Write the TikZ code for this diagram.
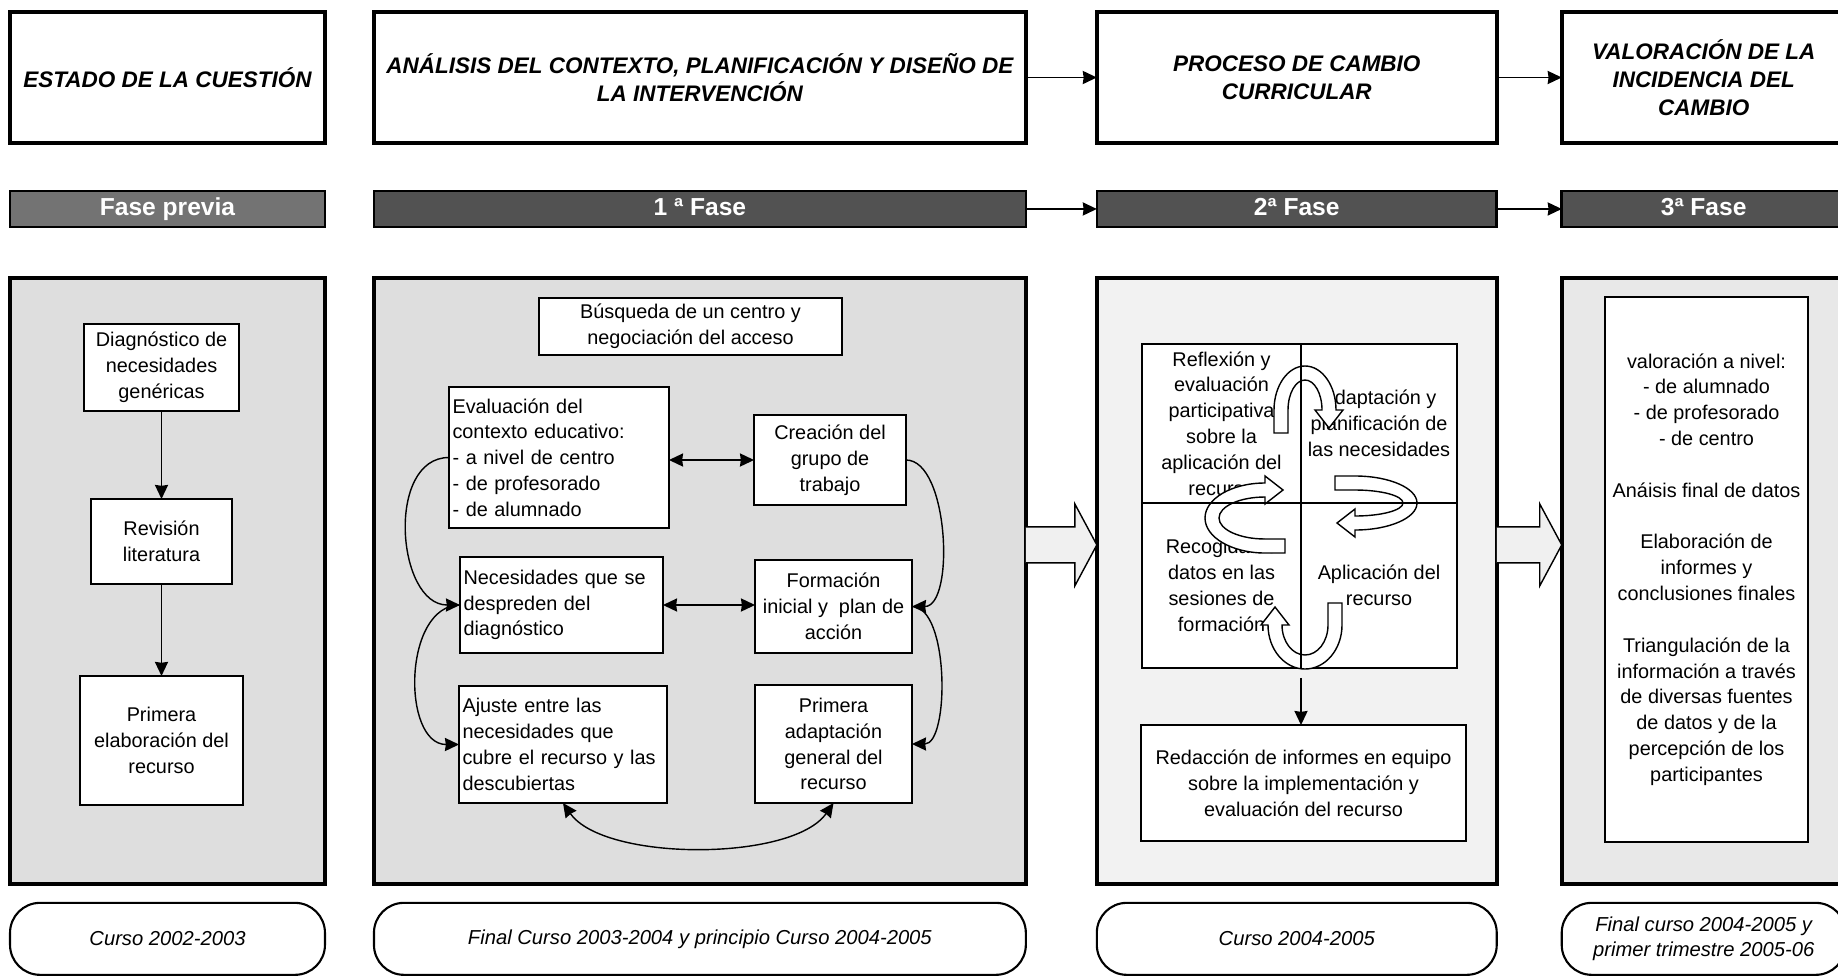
\documentclass[tikz,border=0pt]{standalone}
\usepackage{fontspec}
\setmainfont{Liberation Sans}
\usetikzlibrary{arrows.meta, positioning, shapes, calc}
\newcommand{\bodysize}{\fontsize{11.3}{14.7}\selectfont}
\newcommand{\headsize}{\fontsize{12.8}{15.9}\selectfont}
\newcommand{\stagewidth}{6.3cm}
\tikzstyle{header} = [% the title of each stage
  rectangle,
  minimum height=2.62cm,
  align=center,
  draw=black,
  line width=2pt,
  fill=white,
  font=\headsize\bfseries\itshape
  ]
\tikzstyle{phase} = [% dark bar with the name of the phase
  rectangle,
  minimum height=0.72cm,
  text height=1.45ex,
  text depth=0.05ex,
  draw=black,
  line width=1.5pt,
  fill=black!68,
  text=white,
  font=\fontsize{14}{16}\selectfont\bfseries
  ]
\tikzstyle{panel} = [% grey frame holding the tasks of a phase
  rectangle,
  minimum height=12.12cm,
  draw=black,
  line width=2pt,
  fill=black!13
  ]
\tikzstyle{period} = [% school year of the phase
  rectangle,
  rounded corners=0.6cm,
  minimum height=1.44cm,
  align=center,
  draw=black,
  line width=1.2pt,
  fill=white,
  font=\fontsize{11.5}{14.5}\selectfont\itshape
  ]
\tikzstyle{process} = [% one task
  rectangle,
  inner sep=2pt,
  align=center,
  draw=black,
  line width=1pt,
  fill=white,
  font=\bodysize
  ]
\tikzstyle{listbox} = [% task with text flush left
  process,
  align=left
  ]
\tikzstyle{quadrant} = [% one quarter of the cycle
  rectangle,
  inner sep=0pt,
  align=center,
  draw=black,
  line width=0.8pt,
  fill=white,
  font=\bodysize
  ]
\tikzstyle{hollow} = [% white block arrows
  draw=black,
  line width=0.8pt,
  fill=white
  ]
\tikzstyle{arrow} = [% arrow format
  line width=0.8pt,
  ->,
  >={Stealth[length=8pt, width=7.5pt, inset=0.5pt]}
  ]
\tikzstyle{dblarrow} = [% arrow with two heads
  arrow,
  <->
  ]

\begin{document}
\begin{tikzpicture}[x=0.02cm, y=0.02cm, every node/.append style={outer sep=0pt}]

\useasboundingbox (0,0) rectangle (1838,-977);
\fill[white] (0,0) rectangle (1838,-977);

%%% Stages
\node[header, minimum width=\stagewidth] (estado) at (167.5,-77.5) {ESTADO DE LA CUESTIÓN};
\node[header, minimum width=13.04cm] (analisis) [right=0.98cm of estado] {ANÁLISIS DEL CONTEXTO, PLANIFICACIÓN Y DISEÑO DE\\LA INTERVENCIÓN};
\node[header, minimum width=8cm] (proceso) [right=1.42cm of analisis] {PROCESO DE CAMBIO\\CURRICULAR};
\node[header, minimum width=5.68cm] (valoracion) [right=1.3cm of proceso] {VALORACIÓN DE LA\\INCIDENCIA DEL\\CAMBIO};

%%% Phases
\node[phase, minimum width=\stagewidth, fill=black!55] (fase0) [below=0.96cm of estado] {Fase previa};
\node[phase, minimum width=13.04cm] (fase1) [below=0.96cm of analisis] {1 ª Fase};
\node[phase, minimum width=8cm] (fase2) [below=0.96cm of proceso] {2ª Fase};
\node[phase, minimum width=5.68cm] (fase3) [below=0.96cm of valoracion] {3ª Fase};

%%% Panels
\node[panel, minimum width=\stagewidth] (panelA) [below=1.02cm of fase0] {};
\node[panel, minimum width=13.04cm] (panelB) [below=1.02cm of fase1] {};
\node[panel, minimum width=8cm, fill=black!5] (panelC) [below=1.02cm of fase2] {};
\node[panel, minimum width=5.68cm, fill=black!9] (panelD) [below=1.02cm of fase3] {};

%%% Periods
\node[period, minimum width=\stagewidth] (cursoA) [below=0.38cm of panelA] {Curso 2002-2003};
\node[period, minimum width=13.04cm] (cursoB) [below=0.38cm of panelB] {Final Curso 2003-2004 y principio Curso 2004-2005};
\node[period, minimum width=8cm] (cursoC) [below=0.38cm of panelC] {Curso 2004-2005};
\node[period, minimum width=5.68cm] (cursoD) [below=0.38cm of panelD] {Final curso 2004-2005 y\\primer trimestre 2005-06};

%%% Fase previa
\node[process, minimum width=3.1cm, minimum height=1.74cm] (diag) at (161.5,-367.5) {Diagnóstico de\\necesidades\\genéricas};
\node[process, minimum width=2.82cm, minimum height=1.7cm] (revision) [below=1.76cm of diag] {Revisión\\literatura};
\node[process, minimum width=3.26cm, minimum height=2.58cm] (primera) [below=1.84cm of revision] {Primera\\elaboración del\\recurso};

%%% 1a Fase
\node[process, minimum width=6.06cm, minimum height=1.14cm] (busqueda) at (690.5,-326.5) {Búsqueda de un centro y\\negociación del acceso};
\node[listbox, text width=4.26cm, minimum height=2.82cm] (evaluacion) at (559,-457.5) {Evaluación del\\contexto educativo:\\- a nivel de centro\\- de profesorado\\- de alumnado};
\node[process, minimum width=3.04cm, minimum height=1.8cm] (creacion) at (830,-460) {Creación del\\grupo de\\trabajo};
\node[listbox, text width=3.92cm, minimum height=1.92cm] (necesidades) at (561.5,-605) {Necesidades que se\\despreden del\\diagnóstico};
\node[process, minimum width=3.14cm, minimum height=1.86cm] (formacion) at (833.5,-606.5) {Formación\\inicial y\ \ plan de\\acción};
\node[listbox, text width=4.02cm, minimum height=2.34cm] (ajuste) at (563,-744.5) {Ajuste entre las\\necesidades que\\cubre el recurso y las\\descubiertas};
\node[process, minimum width=3.14cm, minimum height=2.36cm] (primadapt) at (833.5,-744) {Primera\\adaptación\\general del\\recurso};

%%% 2a Fase
\coordinate (hub) at (1301,-503);
\node[quadrant, minimum width=3.18cm, minimum height=3.18cm, anchor=south east] (qTL) at (hub) {Reflexión y\\evaluación\\participativa\\sobre la\\aplicación del\\recurso};
\node[quadrant, minimum width=3.12cm, minimum height=3.18cm, anchor=south west] (qTR) at (hub) {Adaptación y\\planificación de\\las necesidades};
\node[quadrant, minimum width=3.18cm, minimum height=3.3cm, anchor=north east] (qBL) at (hub) {Recogida de\\datos en las\\sesiones de\\formación};
\node[quadrant, minimum width=3.12cm, minimum height=3.3cm, anchor=north west] (qBR) at (hub) {Aplicación del\\recurso};
\node[process, minimum width=6.5cm, minimum height=2.32cm] (redaccion) at (1303.5,-783) {Redacción de informes en equipo\\sobre la implementación y\\evaluación del recurso};

% cycle of curved arrows
\begin{scope}[shift={(hub)}]
  \draw[hollow] (-27,70) -- (-27,93) arc[start angle=180, end angle=0, x radius=31, y radius=44] -- (42,93) -- (28,75) -- (14,93) -- (21,93) arc[start angle=0, end angle=180, x radius=17, y radius=30] -- (-13,70) -- cycle;
  \draw[hollow] (34,27) -- (54,27) arc[start angle=90, end angle=-90, x radius=62, y radius=27] -- (54,-34) -- (36,-20) -- (54,-6) -- (54,-13) arc[start angle=-90, end angle=90, x radius=48, y radius=13] -- (34,13) -- cycle;
  \draw[hollow] (41,-100) -- (41,-122) arc[start angle=0, end angle=-180, x radius=37, y radius=44] -- (-40,-122) -- (-26,-104) -- (-12,-122) -- (-19,-122) arc[start angle=-180, end angle=0, x radius=23, y radius=30] -- (27,-100) -- cycle;
  \draw[hollow] (-16,-50) -- (-36,-50) arc[start angle=-90, end angle=-270, x radius=60, y radius=35] -- (-36,27) -- (-18,13) -- (-36,-1) -- (-36,6) arc[start angle=-270, end angle=-90, x radius=46, y radius=21] -- (-16,-36) -- cycle;
\end{scope}
\draw[line width=0.6pt] (qTL.north east) -- (qBL.south east);
\draw[line width=0.6pt] (qTL.south west) -- (qTR.south east);

%%% 3a Fase
\node[process, minimum width=4.06cm, minimum height=10.9cm] (valbox) at (1706.5,-569.5) {valoración a nivel:\\- de alumnado\\- de profesorado\\- de centro\\[14.7pt]Anáisis final de datos\\[14.7pt]Elaboración de\\informes y\\conclusiones finales\\[14.7pt]Triangulación de la\\información a través\\de diversas fuentes\\de datos y de la\\percepción de los\\participantes};

%%% Arrows
\draw[arrow] (analisis.east) -- (proceso.west);
\draw[arrow] (proceso.east) -- (valoracion.west);
\draw[arrow] (fase1.east) -- (fase2.west);
\draw[arrow] (fase2.east) -- (fase3.west);

\draw[arrow] (diag) -- (revision);
\draw[arrow] (revision) -- (primera);

\draw[dblarrow] (evaluacion.east |- creacion.west) -- (creacion.west);
\draw[dblarrow] (necesidades.east) -- (necesidades.east -| formacion.west);
\draw[arrow] (evaluacion.west) to[out=180, in=180, looseness=1.1] (necesidades.west);
\draw[arrow] (necesidades.west) to[out=180, in=180, looseness=1.05] (ajuste.west);
\draw[arrow] (creacion.east) to[out=0, in=0, looseness=0.75] (formacion.east);
\draw[arrow] (formacion.east) to[out=0, in=0, looseness=0.7] (primadapt.east);
\draw[dblarrow] (ajuste.south) to[out=-55, in=-125, looseness=0.68] (primadapt.south);

\draw[arrow] ([yshift=-0.2cm]qBL.south east) -- (qBL.south east |- redaccion.north);

\draw[hollow, fill=black!6] ($(panelB.east)+(0,54)$) -- ($(panelC.west)+(-22,54)$) -- ($(panelC.west)+(-22,77)$) -- ($(panelC.west)+(0,36)$) -- ($(panelC.west)+(-22,-5)$) -- ($(panelC.west)+(-22,18)$) -- ($(panelB.east)+(0,18)$);
\draw[hollow, fill=black!6] ($(panelC.east)+(0,54)$) -- ($(panelD.west)+(-22,54)$) -- ($(panelD.west)+(-22,77)$) -- ($(panelD.west)+(0,36)$) -- ($(panelD.west)+(-22,-5)$) -- ($(panelD.west)+(-22,18)$) -- ($(panelC.east)+(0,18)$);

\end{tikzpicture}
\end{document}
